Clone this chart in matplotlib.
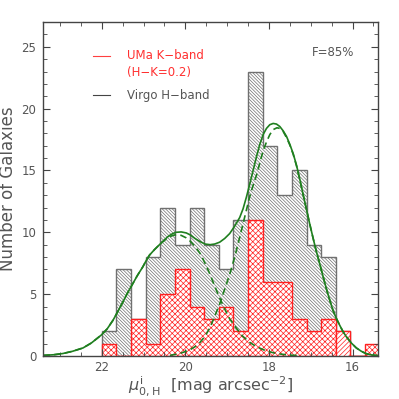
import numpy as np
import matplotlib
matplotlib.use('Agg')
import matplotlib.pyplot as plt
from matplotlib.ticker import MultipleLocator

# bins of 0.35 mag, listed from faint (left, 22.0) to bright (right)
bin_edges = 22.0 - 0.35 * np.arange(20)
virgo_H = [2, 7, 3, 8, 12, 9, 12, 9, 7, 11, 23, 17, 13, 15, 9, 8, 2, 0, 0]
uma_cross = [1, 0, 3, 1, 5, 7, 4, 3, 4, 2, 11, 6, 6, 3, 2, 3, 0, 0, 1]
uma_single = [0, 0, 0, 0, 0, 0, 0, 0, 0, 0, 0, 0, 0, 0, 0, 0, 2, 0, 0]

# two-component fit
fit_mag = [23.40, 23.15, 22.93, 22.70, 22.45, 22.25, 22.01, 21.87, 21.73, 21.60,
           21.49, 21.40, 21.30, 21.15, 21.02, 20.94, 20.86, 20.74, 20.62, 20.50,
           20.40, 20.30, 20.22, 20.10, 19.98, 19.89, 19.77, 19.65, 19.53, 19.41,
           19.30, 19.18, 19.06, 18.94, 18.82, 18.70, 18.62, 18.54, 18.46, 18.38,
           18.30, 18.22, 18.14, 18.06, 17.98, 17.90, 17.82, 17.74, 17.66, 17.58,
           17.50, 17.42, 17.34, 17.26, 17.18, 17.10, 17.02, 16.95, 16.87, 16.79,
           16.70, 16.62, 16.54, 16.47, 16.39, 16.31, 16.23, 16.15, 16.03, 15.91,
           15.79, 15.67, 15.54, 15.40]
fit_tot = [0.05, 0.1, 0.2, 0.38, 0.65, 1.05, 1.7, 2.2, 2.9, 3.7,
           4.4, 5.0, 5.6, 6.5, 7.2, 7.7, 8.15, 8.6, 9.0, 9.4,
           9.7, 9.9, 10.0, 10.03, 9.95, 9.8, 9.5, 9.25, 9.05, 9.0,
           9.05, 9.2, 9.5, 9.9, 10.5, 11.2, 11.9, 12.85, 13.9, 15.0,
           16.1, 17.1, 17.9, 18.4, 18.7, 18.8, 18.75, 18.55, 18.2, 17.75,
           17.1, 16.35, 15.4, 14.25, 13.0, 11.8, 10.6, 9.6, 8.5, 7.5,
           6.35, 5.35, 4.45, 3.7, 3.05, 2.5, 1.98, 1.56, 1.05, 0.65,
           0.38, 0.18, 0.08, 0.03]

faint_mag = [23.40, 23.15, 22.93, 22.70, 22.45, 22.25, 22.01, 21.87, 21.73, 21.60,
             21.49, 21.40, 21.30, 21.15, 21.02, 20.94, 20.86, 20.74, 20.62, 20.50,
             20.40, 20.30, 20.22, 20.10, 19.98, 19.89, 19.77, 19.65, 19.53, 19.41,
             19.30, 19.18, 19.06, 18.94, 18.78, 18.63, 18.46, 18.30, 18.06, 17.82,
             17.55, 17.26]
faint_fit = [0.05, 0.1, 0.2, 0.38, 0.65, 1.05, 1.7, 2.2, 2.9, 3.7,
             4.4, 5.0, 5.6, 6.5, 7.2, 7.7, 8.15, 8.6, 9.0, 9.35,
             9.6, 9.75, 9.8, 9.75, 9.55, 9.3, 8.85, 8.3, 7.5, 6.6,
             5.65, 4.7, 3.8, 3.0, 2.25, 1.6, 1.1, 0.75, 0.4, 0.2,
             0.08, 0.03]

bright_mag = [20.37, 20.13, 19.89, 19.77, 19.65, 19.53, 19.41, 19.30, 19.18, 19.06,
              18.94, 18.82, 18.70, 18.62, 18.54, 18.46, 18.38, 18.30, 18.22, 18.14,
              18.06, 17.98, 17.90, 17.81, 17.74, 17.66, 17.58, 17.50, 17.42, 17.34,
              17.26, 17.18, 17.10, 17.02, 16.95, 16.87, 16.79, 16.70, 16.62, 16.54,
              16.47, 16.39, 16.31, 16.23, 16.15, 16.03, 15.91, 15.79, 15.67, 15.54,
              15.40]
bright_fit = [0.05, 0.2, 0.5, 0.75, 1.1, 1.6, 2.3, 3.2, 4.2, 5.4,
              6.6, 8.0, 9.6, 10.7, 11.8, 12.9, 13.8, 14.6, 15.6, 16.6,
              17.3, 17.9, 18.3, 18.45, 18.4, 18.15, 17.65, 17.05, 16.3, 15.35,
              14.2, 13.0, 11.8, 10.6, 9.6, 8.5, 7.5, 6.35, 5.35, 4.45,
              3.7, 3.05, 2.5, 1.98, 1.56, 1.05, 0.65, 0.38, 0.18, 0.08,
              0.03]

txt = '#555555'
plt.rcParams['font.family'] = 'DejaVu Sans'
plt.rcParams['mathtext.fontset'] = 'dejavusans'
plt.rcParams['hatch.linewidth'] = 0.5

fig = plt.figure(figsize=(3.99, 3.99), dpi=100)
ax = fig.add_axes([0.1085, 0.1078, 0.838, 0.837])

edges = bin_edges[::-1]
ax.stairs(virgo_H[::-1], edges, fill=True, facecolor='white',
          edgecolor='#707070', hatch='\\' * 10, linewidth=1.0)
ax.stairs(uma_cross[::-1], edges, fill=True, facecolor='white',
          edgecolor='#ff2020', hatch='x' * 6, linewidth=1.0)
ax.stairs(uma_single[::-1], edges, fill=True, facecolor='white',
          edgecolor='#ff2020', hatch='/' * 7, linewidth=1.0)

green = '#1f7f1f'
ax.plot(fit_mag, fit_tot, color=green, lw=1.2)
ax.plot(faint_mag, faint_fit, color=green, lw=1.2, ls=(0, (4, 2.5)))
ax.plot(bright_mag, bright_fit, color=green, lw=1.2, ls=(0, (4, 2.5)))

ax.set_xlim(23.4, 15.4)
ax.set_ylim(0, 27)
ax.set_xticks([22, 20, 18, 16])
ax.xaxis.set_minor_locator(MultipleLocator(0.5))
ax.yaxis.set_major_locator(MultipleLocator(5))
ax.yaxis.set_minor_locator(MultipleLocator(1))
ax.tick_params(which='both', direction='in', top=True, right=True,
               colors='#444444', labelcolor=txt, labelsize=8.5)
ax.tick_params(which='major', length=5, pad=5)
ax.tick_params(axis='x', which='major', pad=3.5)
ax.tick_params(which='minor', length=2.8)
for s in ax.spines.values():
    s.set_color('#444444')
    s.set_linewidth(1.0)

ax.set_ylabel('Number of Galaxies', color=txt, fontsize=12)
ax.yaxis.set_label_coords(-0.08, 0.5)
ax.set_xlabel(r'$\mu^{\rm i}_{\rm 0,H}$  [mag arcsec$^{-2}$]', color=txt,
              fontsize=11.5)
ax.xaxis.set_label_coords(0.5, -0.055)

# legend
ax.plot([0.149, 0.199], [0.899, 0.899], transform=ax.transAxes, color='#ff4040', lw=0.8)
ax.text(0.250, 0.899, 'UMa K\u2212band', transform=ax.transAxes, color='#ff3030',
        fontsize=8.5, va='center')
ax.text(0.250, 0.850, '(H\u2212K=0.2)', transform=ax.transAxes, color='#ff3030',
        fontsize=8.5, va='center')
ax.plot([0.149, 0.199], [0.781, 0.781], transform=ax.transAxes, color='#444444', lw=0.8)
ax.text(0.250, 0.781, 'Virgo H\u2212band', transform=ax.transAxes, color=txt,
        fontsize=8.5, va='center')
ax.text(0.929, 0.910, 'F=85%', transform=ax.transAxes, color=txt,
        fontsize=8.5, va='center', ha='right')

fig.savefig('out.png', dpi=100)
